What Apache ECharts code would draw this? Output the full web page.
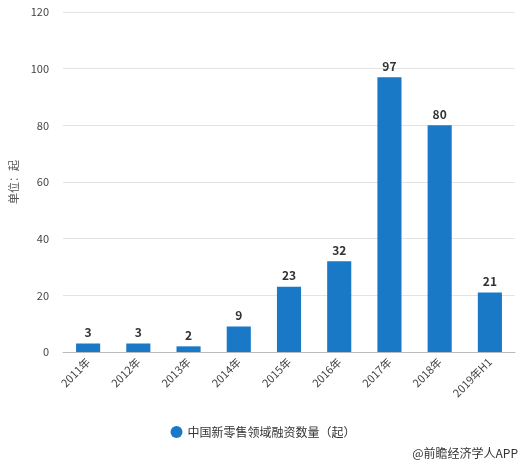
<!DOCTYPE html>
<html><head><meta charset="utf-8">
<script src="https://cdn.jsdelivr.net/npm/echarts@6/dist/echarts.min.js"></script>
<style>html,body{margin:0;padding:0;background:#fff}#chart{width:526px;height:465px}</style>
</head><body>
<div id="chart"></div>
<script>
const years = ["2011年", "2012年", "2013年", "2014年", "2015年", "2016年", "2017年", "2018年", "2019年H1"];
const counts = [3, 3, 2, 9, 23, 32, 97, 80, 21];
const yTicks = { min: 0, max: 120, interval: 20 };

const chart = echarts.init(document.getElementById("chart"));
chart.setOption({
  textStyle: { fontFamily: "Noto Sans CJK SC" },
  grid: { left: 60, right: 11, top: 12, bottom: 113 },
  legend: {
    bottom: 22,
    left: "center",
    icon: "circle",
    itemWidth: 12,
    itemHeight: 12,
    textStyle: { fontSize: 12, color: "#333" },
    data: ["中国新零售领域融资数量（起）"]
  },
  graphic: [{
    type: "text", right: 8, bottom: 6,
    style: { text: "@前瞻经济学人APP", fontSize: 12, fill: "#333", fontFamily: "Noto Sans CJK SC" }
  }],
  xAxis: {
    type: "category",
    data: years,
    axisLine: { lineStyle: { color: "#bbb" } },
    axisTick: { show: false },
    axisLabel: { rotate: 45, interval: 0, color: "#444", fontSize: 11 }
  },
  yAxis: {
    type: "value",
    min: yTicks.min, max: yTicks.max, interval: yTicks.interval,
    name: "单位：起",
    nameLocation: "middle",
    nameGap: 44,
    nameTextStyle: { color: "#555", fontSize: 11 },
    axisLine: { show: false },
    axisTick: { show: false },
    axisLabel: { color: "#444", fontSize: 11, margin: 14 },
    splitLine: { lineStyle: { color: "#e3e3e3" } }
  },
  series: [{
    name: "中国新零售领域融资数量（起）",
    type: "bar",
    data: counts,
    barWidth: "48%",
    itemStyle: { color: "#1a79c6" },
    label: { show: true, position: "top", fontWeight: "bold", color: "#333", fontSize: 12 }
  }]
});
</script>
</body></html>
